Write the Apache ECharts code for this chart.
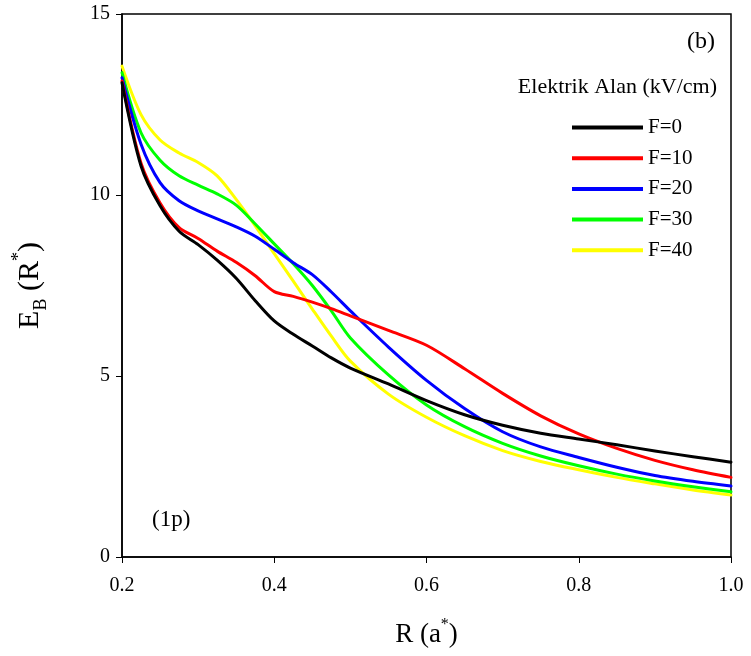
<!DOCTYPE html>
<html>
<head>
<meta charset="utf-8">
<script src="https://cdn.jsdelivr.net/npm/echarts@6/dist/echarts.min.js"></script>
<style>html,body{margin:0;padding:0;background:#fff}#c{width:751px;height:656px}</style>
</head>
<body>
<div id="c"></div>
<script>
const R   = [0.2,   0.225, 0.25,  0.275, 0.3,   0.325, 0.35,  0.375, 0.4,  0.425, 0.45, 0.475, 0.5,  0.55, 0.6,  0.65, 0.7,  0.75, 0.8,  0.85, 0.9,  0.95, 1.0];
const F0  = [13.10, 10.80, 9.70,  9.00,  8.63,  8.20,  7.70,  7.08,  6.52, 6.15,  5.83, 5.50,  5.22, 4.78, 4.32, 3.93, 3.64, 3.42, 3.26, 3.10, 2.93, 2.77, 2.62];
const F10 = [13.15, 10.88, 9.78,  9.10,  8.80,  8.45,  8.14,  7.77,  7.33, 7.20,  7.04, 6.86,  6.66, 6.26, 5.85, 5.20, 4.52, 3.90, 3.40, 3.00, 2.67, 2.41, 2.20];
const F20 = [13.24, 11.40, 10.34, 9.84,  9.56,  9.34,  9.12,  8.86,  8.50, 8.13,  7.80, 7.32,  6.80, 5.80, 4.88, 4.10, 3.46, 3.04, 2.75, 2.48, 2.25, 2.09, 1.96];
const F30 = [13.38, 11.72, 10.96, 10.53, 10.27, 10.03, 9.72,  9.20,  8.65, 8.10,  7.50, 6.80,  6.05, 5.03, 4.20, 3.60, 3.14, 2.79, 2.52, 2.29, 2.10, 1.94, 1.80];
const F40 = [13.56, 12.22, 11.52, 11.16, 10.90, 10.53, 9.88,  9.15,  8.38, 7.62,  6.85, 6.10,  5.41, 4.50, 3.86, 3.35, 2.94, 2.64, 2.41, 2.20, 2.02, 1.85, 1.71];
const seriesNames = ['F=0', 'F=10', 'F=20', 'F=30', 'F=40'];
const seriesValues = [F0, F10, F20, F30, F40];
const colors = ['#000000', '#ff0000', '#0000ff', '#00ff00', '#ffff00'];
const xTicks = [0.2, 0.4, 0.6, 0.8, 1.0];
const yTicks = [0, 5, 10, 15];

const FONT = "'Liberation Serif', 'Times New Roman', serif";
const chart = echarts.init(document.getElementById('c'), null, {renderer: 'canvas'});
chart.setOption({
  backgroundColor: '#fff',
  animation: false,
  textStyle: {fontFamily: FONT, color: '#000'},
  grid: {left: 122, right: 20, top: 14, bottom: 99, show: true, borderColor: '#000', borderWidth: 1.5, backgroundColor: 'transparent'},
  legend: {
    orient: 'vertical', left: 567, top: 112, padding: 5,
    icon: 'rect', itemWidth: 71, itemHeight: 4, itemGap: 9.7,
    data: seriesNames,
    textStyle: {fontFamily: FONT, fontSize: 21, color: '#000', lineHeight: 21}
  },
  xAxis: {
    type: 'value', min: xTicks[0], max: xTicks[xTicks.length - 1], interval: 0.2,
    name: '{a|R (a}{sup|*}{a|)}', nameLocation: 'middle', nameGap: 60,
    nameTextStyle: {fontFamily: FONT, color: '#000', rich: {
      a: {fontFamily: FONT, fontSize: 27, lineHeight: 36, color: '#000'},
      sup: {fontFamily: FONT, fontSize: 16, lineHeight: 16, verticalAlign: 'top', color: '#000'}
    }},
    axisLine: {lineStyle: {color: '#000', width: 1.5}},
    axisTick: {show: true, inside: false, length: 6, lineStyle: {color: '#000', width: 1}},
    axisLabel: {fontFamily: FONT, fontSize: 20, color: '#000', margin: 19, formatter: v => v.toFixed(1)},
    splitLine: {show: false}
  },
  yAxis: {
    type: 'value', min: yTicks[0], max: yTicks[yTicks.length - 1], interval: 5,
    name: '{a|E}{sub|B}{a| (R}{sup|*}{a|)}', nameLocation: 'middle', nameGap: 72, nameRotate: 90,
    nameTextStyle: {fontFamily: FONT, color: '#000', rich: {
      a: {fontFamily: FONT, fontSize: 30, lineHeight: 40, color: '#000'},
      sub: {fontFamily: FONT, fontSize: 18, lineHeight: 18, verticalAlign: 'bottom', color: '#000'},
      sup: {fontFamily: FONT, fontSize: 18, lineHeight: 18, verticalAlign: 'top', color: '#000'}
    }},
    axisLine: {show: true, lineStyle: {color: '#000', width: 1.5}},
    axisTick: {show: true, inside: false, length: 6, lineStyle: {color: '#000', width: 1}},
    axisLabel: {fontFamily: FONT, fontSize: 20, color: '#000', margin: 12},
    splitLine: {show: false}
  },
  graphic: [
    {type: 'text', right: 36, top: 30, style: {text: '(b)', fontFamily: FONT, fontSize: 24, fill: '#000'}},
    {type: 'text', right: 34, top: 76, style: {text: 'Elektrik Alan (kV/cm)', fontFamily: FONT, fontSize: 22, fill: '#000'}},
    {type: 'text', left: 152, top: 508, style: {text: '(1p)', fontFamily: FONT, fontSize: 23, fill: '#000'}}
  ],
  series: seriesNames.map((n, i) => ({
    name: n, type: 'line', smooth: 0.3, showSymbol: false, symbol: 'none',
    data: R.map((r, j) => [r, seriesValues[i][j]]),
    lineStyle: {color: colors[i], width: 3, cap: 'round', join: 'round'},
    itemStyle: {color: colors[i]},
    z: 10 - i
  }))
});
</script>
</body>
</html>
